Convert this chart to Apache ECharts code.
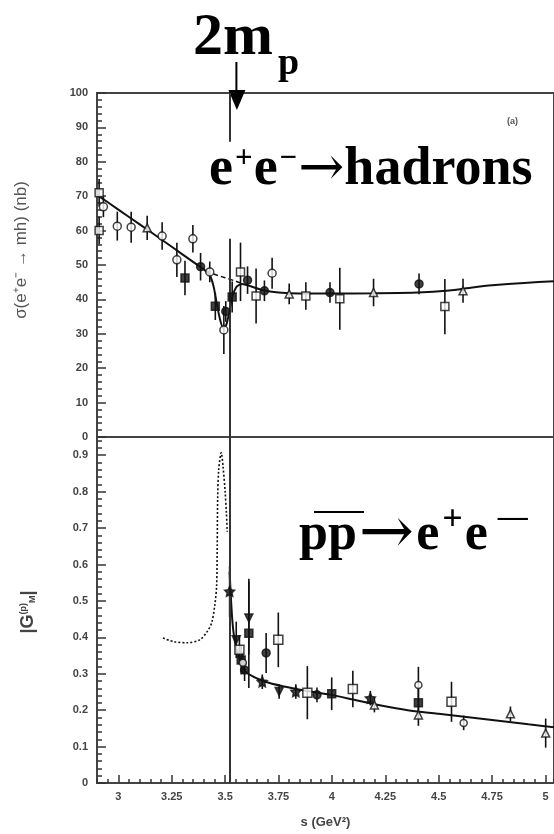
<!DOCTYPE html>
<html><head><meta charset="utf-8">
<script src="https://cdn.jsdelivr.net/npm/echarts@6/dist/echarts.min.js"></script>
<style>html,body{margin:0;padding:0;background:#fff}#c{width:554px;height:834px}</style>
</head><body><div id="c"></div><script>
// ---------- data ----------
const xTickValues = [3, 3.25, 3.5, 3.75, 4, 4.25, 4.5, 4.75, 5];
const threshold = 3.52;            // (2 m_p)^2 in GeV^2
// top panel: [s, sigma (nb), error]
const topOpenCircle   = [[2.93,66.9,3],[2.995,61.3,4.2],[3.06,61,4.5],[3.205,58.4,4],[3.274,51.5,5],[3.349,57.6,4],[3.428,48,3],[3.494,31.1,7],[3.72,47.6,4.5]];
const topOpenSquare   = [[2.91,71,4],[2.91,60,4],[3.572,48,8.5],[3.645,41,8],[3.878,41,4],[4.037,40.2,9],[4.529,37.9,8]];
const topOpenTriangle = [[3.135,60.8,3.5],[3.80,41.6,3],[4.195,42,4],[4.614,42.5,3.5]];
const topFilledSquare = [[3.312,46.2,5],[3.454,38,4],[3.533,40.7,4.5]];
const topFilledCircle = [[3.385,49.5,4],[3.503,36.5,3],[3.605,45.6,4],[3.684,42.5,3],[3.991,42,3],[4.408,44.5,3]];
const topFit    = [[2.9,70.4],[3.0,66.1],[3.1,61.8],[3.2,57.5],[3.3,53.1],[3.38,49.6],[3.41,48.2],[3.43,46.8],[3.447,43.5],[3.46,39],[3.475,34.5],[3.49,31.8],[3.505,32.5],[3.52,36.5],[3.535,41],[3.555,43.8],[3.58,44.5],[3.62,43.8],[3.67,42.8],[3.75,42],[3.85,41.7],[4.0,41.7],[4.2,41.8],[4.4,42],[4.55,42.6],[4.65,43.4],[4.75,44.1],[4.9,44.8],[5.04,45.3]];
const topDashed = [[3.41,48.4],[3.45,47.3],[3.5,46.3],[3.54,45.5],[3.58,44.6]];
const topGap = [85.8, 57.6];       // threshold line interrupted by the label
// bottom panel: [s, |G_M|, error]
const botFilledStar    = [[3.521,0.526,0.07],[3.674,0.278,0.02],[3.831,0.251,0.02],[4.18,0.233,0.02]];
const botFilledTriDown = [[3.552,0.393,0.05],[3.611,0.453,0.1],[3.753,0.251,0.02]];
const botOpenSquare    = [[3.567,0.366,0.04],[3.749,0.393,0.075],[3.885,0.248,0.073],[4.098,0.258,0.05],[4.56,0.223,0.055]];
const botFilledSquare  = [[3.575,0.338,0.04],[3.611,0.411,0.15],[3.999,0.245,0.045],[4.405,0.22,0.04]];
const botFilledCircle  = [[3.591,0.31,0.03],[3.692,0.357,0.055],[3.93,0.242,0.02]];
const botOpenCircle    = [[3.583,0.33,0.03],[4.405,0.269,0.05],[4.617,0.165,0.02]];
const botOpenTriangle  = [[4.199,0.214,0.02],[4.405,0.187,0.03],[4.836,0.19,0.02],[5.001,0.137,0.04]];
const botFit = [[3.521,0.58],[3.526,0.52],[3.532,0.46],[3.54,0.41],[3.55,0.375],[3.562,0.35],[3.575,0.334],[3.6,0.303],[3.65,0.287],[3.7,0.276],[3.8,0.262],[3.9,0.251],[4.0,0.242],[4.1,0.229],[4.2,0.216],[4.3,0.205],[4.4,0.196],[4.5,0.19],[4.62,0.182],[4.72,0.175],[4.82,0.168],[4.92,0.161],[5.04,0.153]];
const botDotted = [[3.209,0.398],[3.26,0.388],[3.321,0.385],[3.381,0.393],[3.415,0.415],[3.437,0.44],[3.452,0.49],[3.46,0.54],[3.463,0.65],[3.465,0.78],[3.47,0.86],[3.482,0.907],[3.49,0.87],[3.5,0.8],[3.506,0.74],[3.51,0.69]];

// ---------- chart ----------
const INK = '#111';
const labelStyle = {color:'#444', fontSize:11, fontWeight:'bold', fontFamily:'Liberation Sans'};
const STAR = 'path://M0,-10L2.9,-4L9.5,-3.1L4.8,1.5L5.9,8.1L0,5L-5.9,8.1L-4.8,1.5L-9.5,-3.1L-2.9,-4Z';

function pts(arr, symbol, filled, gi, size, rot) {
  return {type:'scatter', xAxisIndex: gi===0?0:1, yAxisIndex: gi, data: arr.map(d=>[d[0],d[1]]),
    symbol, symbolSize: size||8, symbolRotate: rot||0, z: 5,
    itemStyle:{color: filled?INK:'#fff', borderColor: INK, borderWidth: 1.5}};
}
function errs(arrs, gi) {
  const data = [];
  arrs.forEach(a => a.forEach(d => data.push([d[0], d[1]-d[2], d[1]+d[2]])));
  return {type:'custom', xAxisIndex: gi===0?0:1, yAxisIndex: gi, z: 3, data,
    encode:{x:0, y:[1,2]},
    renderItem(params, api){
      const a = api.coord([api.value(0), api.value(1)]);
      const b = api.coord([api.value(0), api.value(2)]);
      return {type:'line', shape:{x1:a[0],y1:a[1],x2:b[0],y2:b[1]}, style:{stroke:INK, lineWidth:1.6}};
    }};
}

const X0 = 2.9, X1 = 5.04;
const chart = echarts.init(document.getElementById('c'), null, {renderer:'canvas'});
const option = {
  animation:false,
  backgroundColor:'#fff',
  grid:[
    {left:97, top:93, right:-3, height:344, show:true, borderColor:'#444', borderWidth:2, backgroundColor:'transparent'},
    {left:97, top:437, right:-3, height:346, show:true, borderColor:'#444', borderWidth:2, backgroundColor:'transparent'}
  ],
  xAxis:[
    {gridIndex:0, type:'value', position:'bottom', min:X0, max:X1, axisLine:{show:false}, axisTick:{show:false}, axisLabel:{show:false}, splitLine:{show:false}},
    {gridIndex:1, type:'value', position:'bottom', min:X0, max:X1, axisLine:{show:false},
      axisTick:{show:true, inside:true, length:8, lineStyle:{color:'#333', width:1.5}, customValues:xTickValues},
      axisLabel:Object.assign({customValues:xTickValues, margin:8, formatter:v=>String(+v.toFixed(2))}, labelStyle),
      splitLine:{show:false},
      name:'s (GeV²)', nameLocation:'middle', nameGap:33, nameTextStyle:{color:'#444', fontSize:13, fontWeight:'bold', fontFamily:'Liberation Sans'}},
    {gridIndex:1, type:'value', position:'bottom', min:X0, max:X1, interval:0.05, axisLine:{show:false},
      axisTick:{show:true, inside:true, length:4, lineStyle:{color:'#333', width:1.5}},
      axisLabel:{show:false}, splitLine:{show:false}}
  ],
  yAxis:[
    {gridIndex:0, type:'value', min:0, max:100, interval:10, axisLine:{show:false},
      axisTick:{show:true, inside:true, length:9, lineStyle:{color:'#333', width:1.5}},
      minorTick:{show:true, splitNumber:5, length:5, lineStyle:{color:'#333', width:1.5}},
      axisLabel:Object.assign({margin:9}, labelStyle), splitLine:{show:false}},
    {gridIndex:1, type:'value', min:0, max:0.95, interval:0.1, axisLine:{show:false},
      axisTick:{show:true, inside:true, length:9, lineStyle:{color:'#333', width:1.5}},
      minorTick:{show:true, splitNumber:5, length:5, lineStyle:{color:'#333', width:1.5}},
      axisLabel:Object.assign({margin:9, formatter:v=> v>0.91 ? '' : String(+v.toFixed(1))}, labelStyle), splitLine:{show:false}}
  ],
  series:[
    {type:'line', xAxisIndex:0, yAxisIndex:0, data:topFit, symbol:'none', smooth:0.2, lineStyle:{color:INK, width:2}, z:4,
      markLine:{silent:true, symbol:'none', label:{show:false}, lineStyle:{color:'#333', width:2, type:'solid'},
        data:[[{coord:[threshold,100]},{coord:[threshold,topGap[0]]}],[{coord:[threshold,topGap[1]]},{coord:[threshold,0]}]]}},
    {type:'line', xAxisIndex:0, yAxisIndex:0, data:topDashed, symbol:'none', smooth:0.2, lineStyle:{color:INK, width:1.5, type:[5,3]}, z:4},
    {type:'line', xAxisIndex:1, yAxisIndex:1, data:botFit, symbol:'none', smooth:0.2, lineStyle:{color:INK, width:2}, z:4,
      markLine:{silent:true, symbol:'none', label:{show:false}, lineStyle:{color:'#333', width:2, type:'solid'},
        data:[{xAxis:threshold}]}},
    {type:'line', xAxisIndex:1, yAxisIndex:1, data:botDotted, symbol:'none', smooth:0.3, lineStyle:{color:INK, width:1.6, type:[2,2]}, z:4},
    errs([topOpenCircle, topOpenSquare, topOpenTriangle, topFilledSquare, topFilledCircle], 0),
    errs([botFilledStar, botFilledTriDown, botOpenSquare, botFilledSquare, botFilledCircle, botOpenCircle, botOpenTriangle], 1),
    pts(topOpenCircle,'circle',false,0,8),
    pts(topOpenSquare,'rect',false,0,8),
    pts(topOpenTriangle,'triangle',false,0,8),
    pts(topFilledSquare,'rect',true,0,8),
    pts(topFilledCircle,'circle',true,0,8),
    pts(botFilledStar,STAR,true,1,10),
    pts(botFilledTriDown,'triangle',true,1,8,180),
    pts(botOpenSquare,'rect',false,1,9),
    pts(botFilledSquare,'rect',true,1,8),
    pts(botFilledCircle,'circle',true,1,8),
    pts(botOpenCircle,'circle',false,1,7),
    pts(botOpenTriangle,'triangle',false,1,8)
  ]
};
chart.setOption(option);

// annotations
const tx = chart.convertToPixel({xAxisIndex:0}, threshold);
const serifBold = {fontFamily:'Liberation Serif', fontWeight:'bold', fill:'#000'};
const arrowTok = {fontFamily:'DejaVu Serif', fontWeight:'normal', fill:'#000'};
chart.setOption({graphic:[
  {type:'text', left:193, top:8, style:Object.assign({text:'2m', fontSize:60}, serifBold)},
  {type:'text', left:278, top:45, style:Object.assign({text:'p', fontSize:38}, serifBold)},
  {type:'line', shape:{x1:tx+7, y1:62, x2:tx+7, y2:92}, style:{stroke:'#000', lineWidth:2}},
  {type:'polygon', shape:{points:[[tx-1,90],[tx+16,90],[tx+7.5,110]]}, style:{fill:'#000'}},
  {type:'text', left:507, top:117, style:{text:'(a)', fontSize:9, fontWeight:'bold', fontFamily:'Liberation Sans', fill:'#555'}},
  {type:'text', left:209, top:143, style:Object.assign({
      text:'{b|e}{s|+}{b|e}{s|−}{a|→}{b|hadrons}', fontSize:54,
      rich:{b:Object.assign({fontSize:54}, serifBold), s:Object.assign({fontSize:31, verticalAlign:'top', padding:[0,1,0,2]}, serifBold),
            a:Object.assign({fontSize:55, padding:[0,0,0,0]}, arrowTok)}}, serifBold)},
  {type:'text', left:299, top:503, style:Object.assign({
      text:'{b|pp}{a|→}{b|e}{s|+}{b|e}{m|—}', fontSize:52,
      rich:{b:Object.assign({fontSize:52}, serifBold), s:Object.assign({fontSize:36, verticalAlign:'top', padding:[0,2,0,3]}, serifBold),
            m:Object.assign({fontSize:30, verticalAlign:'top', lineHeight:20, padding:[0,0,0,10]}, serifBold),
            a:Object.assign({fontSize:66, padding:[0,2,0,2]}, arrowTok)}}, serifBold)},
  {type:'rect', shape:{x:314, y:511, width:50, height:2}, style:{fill:'#000'}},
  // y-axis titles
  {type:'text', x:21, y:250, rotation:Math.PI/2, style:{text:'σ(e⁺e⁻ → mh) (nb)', align:'center', verticalAlign:'middle',
      fontSize:17, fontFamily:'Liberation Sans', fill:'#555'}},
  {type:'text', x:28, y:612, rotation:Math.PI/2, style:{text:'{n||G}{s|(p)}{b|M}{n||}', align:'center', verticalAlign:'middle',
      fontSize:18, fontWeight:'bold', fontFamily:'Liberation Sans', fill:'#444',
      rich:{n:{fontSize:18, fontWeight:'bold', fontFamily:'Liberation Sans', fill:'#444'},
            s:{fontSize:9, fontWeight:'bold', verticalAlign:'top', fontFamily:'Liberation Sans', fill:'#444'},
            b:{fontSize:9, fontWeight:'bold', verticalAlign:'bottom', fontFamily:'Liberation Sans', fill:'#444'}}}}
]});
</script></body></html>
